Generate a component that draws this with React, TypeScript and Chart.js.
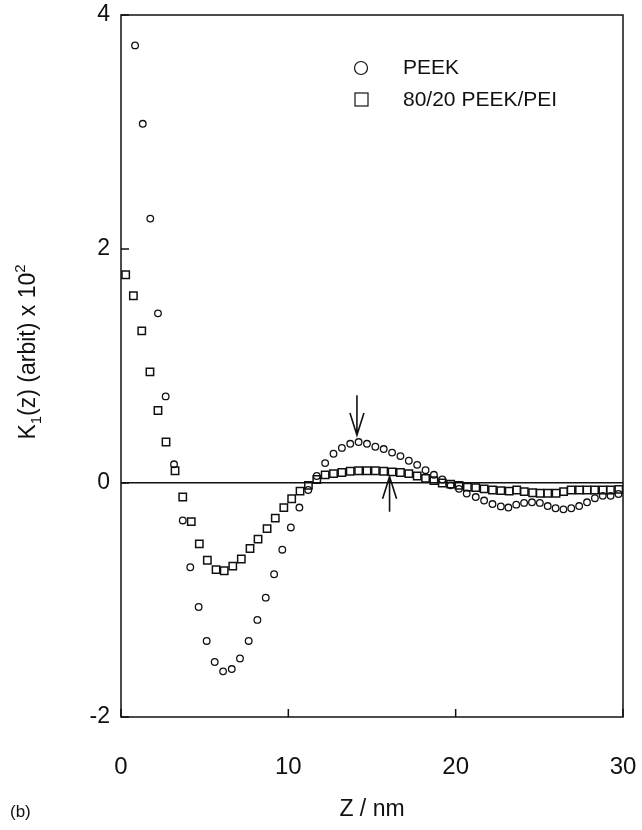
import React, { useEffect, useRef } from "react";
import { Chart, registerables } from "chart.js";

Chart.register(...registerables);

// ---- data ----
const seriesNames = ["PEEK", "80/20 PEEK/PEI"];

const peekZ = [
  0.84, 1.3, 1.75, 2.21, 2.67, 3.17, 3.69, 4.14, 4.64, 5.12, 5.6, 6.1, 6.62, 7.11, 7.63, 8.15, 8.65, 9.15,
  9.64, 10.15, 10.66, 11.19, 11.7, 12.2, 12.7, 13.2, 13.7, 14.2, 14.7, 15.2, 15.7, 16.2, 16.7, 17.2, 17.7,
  18.2, 18.7, 19.2, 19.7, 20.2, 20.66, 21.2, 21.7, 22.2, 22.7, 23.15, 23.62, 24.09, 24.56, 25.03, 25.5,
  25.97, 26.44, 26.91, 27.38, 27.85, 28.32, 28.79, 29.26, 29.73,
];
const peekK = [
  3.74, 3.07, 2.26, 1.45, 0.74, 0.16, -0.32, -0.72, -1.06, -1.35, -1.53, -1.61, -1.59, -1.5, -1.35, -1.17,
  -0.98, -0.78, -0.57, -0.38, -0.21, -0.06, 0.06, 0.17, 0.25, 0.3, 0.335, 0.35, 0.335, 0.31, 0.29, 0.26,
  0.23, 0.19, 0.155, 0.11, 0.07, 0.03, -0.02, -0.05, -0.09, -0.12, -0.15, -0.18, -0.2, -0.21, -0.185,
  -0.17, -0.165, -0.17, -0.197, -0.216, -0.225, -0.216, -0.197, -0.165, -0.13, -0.11, -0.11, -0.094,
];

const blendZ = [
  0.28, 0.74, 1.24, 1.73, 2.21, 2.69, 3.23, 3.69, 4.2, 4.68, 5.16, 5.68, 6.17, 6.68, 7.19, 7.71, 8.19, 8.73,
  9.22, 9.73, 10.2, 10.7, 11.2, 11.7, 12.2, 12.7, 13.2, 13.7, 14.2, 14.7, 15.2, 15.7, 16.2, 16.7, 17.2,
  17.7, 18.2, 18.7, 19.2, 19.7, 20.2, 20.7, 21.2, 21.7, 22.2, 22.7, 23.2, 23.65, 24.1, 24.6, 25.05, 25.5,
  26.0, 26.45, 26.9, 27.4, 27.85, 28.3, 28.8, 29.25, 29.75,
];
const blendK = [
  1.78, 1.6, 1.3, 0.95, 0.62, 0.35, 0.105, -0.12, -0.33, -0.52, -0.66, -0.74, -0.75, -0.71, -0.65, -0.56,
  -0.48, -0.39, -0.3, -0.21, -0.135, -0.07, -0.02, 0.03, 0.07, 0.08, 0.09, 0.1, 0.105, 0.105, 0.105, 0.1,
  0.095, 0.09, 0.08, 0.06, 0.04, 0.02, 0.0, -0.01, -0.02, -0.035, -0.04, -0.05, -0.06, -0.065, -0.07,
  -0.06, -0.074, -0.083, -0.088, -0.088, -0.088, -0.074, -0.06, -0.06, -0.06, -0.06, -0.06, -0.06, -0.054,
];

const xTickValues = [0, 10, 20, 30];
const yTickValues = [-2, 0, 2, 4];

// arrows marking the peaks: [z, from K, to K (tip)]
const arrowDown = [14.1, 0.75, 0.41];
const arrowUp = [16.05, -0.245, 0.054];

const FONT = "'Liberation Sans', Arial, Helvetica, sans-serif";
const INK = "#111";

const decorPlugin = {
  id: "decor",
  afterDraw(chart: any) {
    const { ctx, chartArea: a, scales } = chart;
    const x = scales.x;
    const y = scales.y;
    ctx.save();
    ctx.strokeStyle = INK;
    ctx.fillStyle = INK;
    ctx.lineWidth = 1.5;
    // frame
    ctx.strokeRect(a.left, a.top, a.right - a.left, a.bottom - a.top);
    // inward ticks
    ctx.beginPath();
    for (const v of xTickValues) {
      const px = x.getPixelForValue(v);
      ctx.moveTo(px, a.bottom);
      ctx.lineTo(px, a.bottom - 8);
    }
    for (const v of yTickValues) {
      const py = y.getPixelForValue(v);
      ctx.moveTo(a.left, py);
      ctx.lineTo(a.left + 8, py);
    }
    ctx.stroke();

    // arrows
    const drawArrow = (spec: number[]) => {
      const px = x.getPixelForValue(spec[0]);
      const p0 = y.getPixelForValue(spec[1]);
      const p1 = y.getPixelForValue(spec[2]);
      const dir = p1 > p0 ? 1 : -1;
      ctx.beginPath();
      ctx.moveTo(px, p0);
      ctx.lineTo(px, p1);
      ctx.moveTo(px - 7, p1 - dir * 22);
      ctx.lineTo(px, p1);
      ctx.lineTo(px + 7, p1 - dir * 22);
      ctx.stroke();
    };
    ctx.lineWidth = 1.6;
    drawArrow(arrowDown);
    drawArrow(arrowUp);

    // legend
    ctx.lineWidth = 1.2;
    ctx.beginPath();
    ctx.arc(361, 68, 6.5, 0, Math.PI * 2);
    ctx.stroke();
    ctx.strokeRect(355, 93, 13, 13);
    ctx.font = `21px ${FONT}`;
    ctx.textBaseline = "middle";
    ctx.textAlign = "left";
    ctx.fillText(seriesNames[0], 403, 68);
    ctx.fillText(seriesNames[1], 403, 100);

    // x title
    ctx.font = `23px ${FONT}`;
    ctx.textAlign = "center";
    ctx.fillText("Z / nm", (a.left + a.right) / 2, 810);

    // panel label
    ctx.font = `17px ${FONT}`;
    ctx.textAlign = "left";
    ctx.fillText("(b)", 10, 812);

    // y title with sub/superscript
    ctx.translate(35, 352);
    ctx.rotate(-Math.PI / 2);
    ctx.textBaseline = "alphabetic";
    const big = `23px ${FONT}`;
    const small = `15px ${FONT}`;
    const parts: [string, string, number][] = [
      ["K", big, 0],
      ["1", small, 6],
      ["(z) (arbit) x 10", big, 0],
      ["2", small, -10],
    ];
    let total = 0;
    for (const [t, f] of parts) {
      ctx.font = f;
      total += ctx.measureText(t).width;
    }
    let cx = -total / 2;
    for (const [t, f, dy] of parts) {
      ctx.font = f;
      ctx.fillText(t, cx, dy);
      cx += ctx.measureText(t).width;
    }
    ctx.restore();
  },
};

export default function App() {
  const ref = useRef<HTMLCanvasElement | null>(null);

  useEffect(() => {
    document.body.style.margin = "0";
    const canvas = ref.current;
    if (!canvas) return;
    const chart = new Chart(canvas, {
      type: "scatter",
      data: {
        datasets: [
          {
            label: seriesNames[0],
            data: peekZ.map((z, i) => ({ x: z, y: peekK[i] })),
            pointStyle: "circle",
            pointRadius: 3.3,
            pointBorderWidth: 1.3,
            borderColor: INK,
            backgroundColor: "rgba(0,0,0,0)",
            showLine: false,
          },
          {
            label: seriesNames[1],
            data: blendZ.map((z, i) => ({ x: z, y: blendK[i] })),
            pointStyle: "rect",
            pointRadius: 5.2,
            pointBorderWidth: 1.5,
            borderColor: INK,
            backgroundColor: "rgba(0,0,0,0)",
            showLine: false,
          },
        ],
      },
      options: {
        responsive: false,
        animation: false,
        devicePixelRatio: 1,
        layout: { padding: { left: 0, right: 19, top: 15, bottom: 0 } },
        plugins: {
          legend: { display: false },
          tooltip: { enabled: false },
        },
        scales: {
          x: {
            type: "linear",
            min: 0,
            max: 30,
            afterFit: (s: any) => {
              s.height = 113;
              s.paddingLeft = 0;
              s.paddingRight = 0;
              s.paddingTop = 0;
              s.paddingBottom = 0;
            },
            afterBuildTicks: (s: any) => {
              s.ticks = xTickValues.map((v) => ({ value: v }));
            },
            grid: { display: false, drawTicks: false },
            border: { display: false },
            ticks: {
              padding: 36,
              color: INK,
              font: { size: 24, family: FONT },
              maxRotation: 0,
            },
          },
          y: {
            type: "linear",
            min: -2,
            max: 4,
            afterFit: (s: any) => {
              s.width = 121;
              s.paddingLeft = 0;
              s.paddingRight = 0;
              s.paddingTop = 0;
              s.paddingBottom = 0;
            },
            afterBuildTicks: (s: any) => {
              s.ticks = yTickValues.map((v) => ({ value: v }));
            },
            grid: {
              display: true,
              drawTicks: false,
              color: (c: any) => (c.tick && c.tick.value === 0 ? INK : "rgba(0,0,0,0)"),
              lineWidth: 1.5,
            },
            border: { display: false },
            ticks: {
              padding: 11,
              color: INK,
              font: { size: 23, family: FONT },
            },
          },
        },
      },
      plugins: [decorPlugin],
    });
    return () => chart.destroy();
  }, []);

  return (
    <div style={{ width: 642, height: 830, background: "#fff" }}>
      <canvas ref={ref} width={642} height={830} style={{ display: "block" }} />
    </div>
  );
}
